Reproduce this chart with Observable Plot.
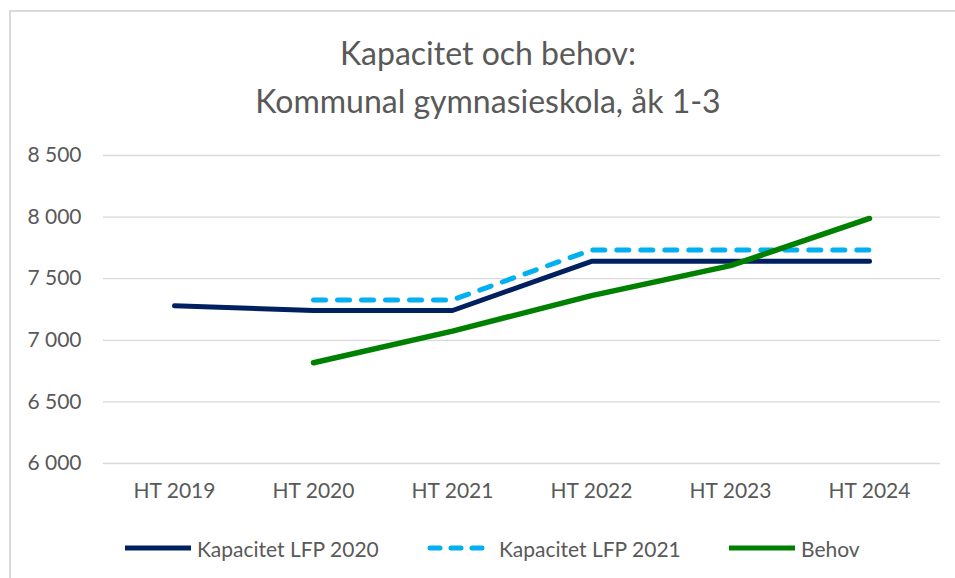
<!DOCTYPE html>
<html>
<head>
<meta charset="utf-8">
<script src="https://cdn.jsdelivr.net/npm/d3@7"></script>
<script src="https://cdn.jsdelivr.net/npm/@observablehq/plot@0.6"></script>
<style>
  html, body { margin: 0; padding: 0; background: #fff; width: 955px; height: 578px; overflow: hidden; }
  body { font-family: Lato, "Open Sans", sans-serif; color: #595959; position: relative; }
  #frame { position: absolute; left: 9px; top: 10px; width: 1000px; height: 700px;
           border-left: 2px solid #d9d9d9; border-top: 2px solid #d9d9d9; box-sizing: border-box; }
  #title { position: absolute; left: 188px; width: 600px; top: 29px; text-align: center;
           font-size: 32px; line-height: 48px; color: #595959; }
  #chart { position: absolute; left: 0; top: 130px; }
  #legend { position: absolute; top: 533px; left: 0; width: 955px; height: 30px; font-size: 21px; color: #595959; }
  .item { position: absolute; top: 0; display: flex; align-items: center; height: 30px; }
  .item svg { margin-right: 6px; }
</style>
</head>
<body>
<div id="frame"></div>
<div id="title">Kapacitet och behov:<br>Kommunal gymnasieskola, åk 1-3</div>
<div id="chart"></div>
<div id="legend"></div>
<script>
const years = ["HT 2019", "HT 2020", "HT 2021", "HT 2022", "HT 2023", "HT 2024"];
const kap2020 = [7280, 7242, 7242, 7641, 7641, 7641];
const kap2021 = [null, 7328, 7328, 7733, 7733, 7733];
const behov   = [null, 6818, 7074, 7363, 7606, 7989];
const yTicks = [6000, 6500, 7000, 7500, 8000, 8500];
const seriesNames = ["Kapacitet LFP 2020", "Kapacitet LFP 2021", "Behov"];
const seriesColors = ["#002060", "#00B0F0", "#008000"];

const toRows = (vals) => years.map((y, i) => ({year: y, value: vals[i]})).filter(d => d.value != null);
const rows2020 = toRows(kap2020);
const rows2021 = toRows(kap2021);
const rowsBehov = toRows(behov);

const fmt = (v) => d3.format(",")(v).replace(/,/g, " ");

const plot = Plot.plot({
  width: 955,
  height: 390,
  marginLeft: 103,
  marginRight: 15,
  marginTop: 25,
  marginBottom: 57,
  style: { fontFamily: "Lato, 'Open Sans', sans-serif", fontSize: "21px", color: "#595959", background: "transparent" },
  x: { type: "point", domain: years, padding: 0.5, label: null, tickSize: 0, tickPadding: 20 },
  y: { domain: [6000, 8500], ticks: yTicks, tickFormat: fmt, label: null, tickSize: 0, tickPadding: 22 },
  marks: [
    Plot.ruleY(yTicks, { stroke: "#d9d9d9", strokeWidth: 1.3 }),
    Plot.line(rows2020, { x: "year", y: "value", stroke: seriesColors[0], strokeWidth: 5, strokeLinejoin: "round" }),
    Plot.line(rows2021, { x: "year", y: "value", stroke: seriesColors[1], strokeWidth: 5, strokeDasharray: "12,12", strokeLinecap: "round" }),
    Plot.line(rowsBehov, { x: "year", y: "value", stroke: seriesColors[2], strokeWidth: 5.5, strokeLinecap: "round", strokeLinejoin: "round" })
  ]
});
plot.querySelectorAll("g[aria-label='y-axis tick label'] text, g[aria-label='x-axis tick label'] text").forEach(t => t.setAttribute("fill", "#595959"));
document.getElementById("chart").appendChild(plot);

const legend = document.getElementById("legend");
const lefts = [125, 427, 729];
seriesNames.forEach((name, i) => {
  const div = document.createElement("div");
  div.className = "item";
  div.style.left = lefts[i] + "px";
  const dash = i === 1 ? 'stroke-dasharray="10,11" stroke-linecap="round"' : (i === 2 ? 'stroke-linecap="round"' : '');
  div.innerHTML = `<svg width="66" height="10"><line x1="${i===1?3:0}" x2="${i===1?63:66}" y1="5" y2="5" stroke="${seriesColors[i]}" stroke-width="5" ${dash}/></svg><span>${name}</span>`;
  legend.appendChild(div);
});
</script>
</body>
</html>
